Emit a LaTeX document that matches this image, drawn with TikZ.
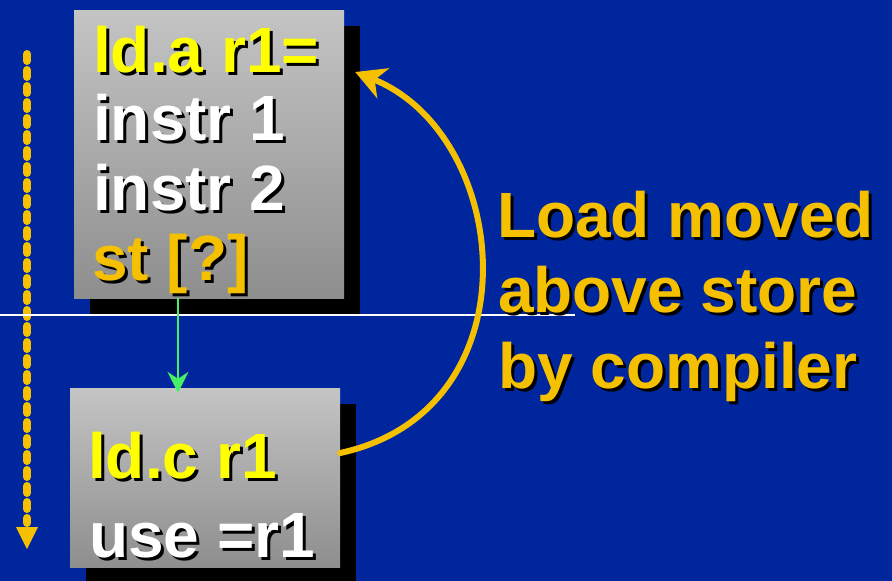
\documentclass[tikz,border=0pt]{standalone}
\usepackage{fontspec}
\setmainfont{Liberation Sans}
\usetikzlibrary{arrows.meta,shadows}
\definecolor{bg}{RGB}{0,38,158}
\definecolor{gold}{RGB}{245,192,0}
\definecolor{yel}{RGB}{255,255,0}
\definecolor{grn}{RGB}{70,240,100}
\definecolor{boxtop}{RGB}{196,196,196}
\definecolor{boxbot}{RGB}{142,142,142}
\newcommand\shd[2]{\rlap{\kern3pt\raisebox{-3pt}{\textcolor{black}{#2}}}\textcolor{#1}{#2}}
\tikzset{
  txt/.style={anchor=base west, inner sep=0pt, font=\fontsize{64}{64}\selectfont\bfseries},
  graybox/.style={rectangle, inner sep=0pt, top color=boxtop, bottom color=boxbot, draw=none,
    minimum width=270pt,
    drop shadow={shadow xshift=16pt, shadow yshift=-16pt, fill=black, opacity=1}},
}
\begin{document}
\begin{tikzpicture}[x=1pt,y=-1pt]
\useasboundingbox (0,0) rectangle (892,581);
\fill[bg] (0,0) rectangle (892,581);
% boxes
\node[graybox, minimum height=288pt] (topbox) at (209,154) {};
\node[graybox, minimum height=179pt] (botbox) at (205,477.5) {};
% dotted arrow
\coordinate (dtop) at (27,54);
\coordinate (dbot) at (27,527);
\coordinate (dtip) at (27,549);
\draw[gold, line width=8pt, line cap=round, dash pattern=on 7pt off 9pt] (dtop) -- ([yshift=4pt]dbot);
\fill[gold] ([xshift=-11pt]dbot) -- ([xshift=11pt]dbot) -- (dtip) -- cycle;
% white line
\coordinate (wl) at (0,315);
\coordinate (wr) at (575,315);
\draw[white, line width=1.5pt] (wl) -- (wr);
% green arrow
\coordinate (gx) at (178,0);
\draw[grn, line width=2pt, shorten >=-5pt, -{Stealth[length=21pt,width=21pt,inset=7pt]}]
  (topbox.south -| gx) -- (botbox.north -| gx);
% yellow curved arrow
\coordinate (cs) at ([yshift=24.5pt]botbox.east);
\coordinate (ce) at ([xshift=11pt,yshift=82pt]topbox.east);
\draw[gold, line width=6pt, line cap=round, -{Stealth[length=30pt,width=32pt,inset=9pt]}]
  (cs) .. controls (538,410) and (512,135) .. (ce);
% texts
\node[txt] (t1) at (93,72) {\shd{yel}{ld.a r1=}};
\node[txt] (t2) at (93,140) {\shd{white}{instr 1}};
\node[txt] (t3) at (93,210) {\shd{white}{instr 2}};
\node[txt] (t4) at (92,280) {\shd{gold}{st [?]}};
\node[txt] (b1) at (88,478) {\shd{yel}{ld.c r1}};
\node[txt] (b2) at (89,557) {\shd{white}{use =r1}};
\node[txt] (r1) at (497,237) {\shd{gold}{Load moved}};
\node[txt] (r2) at (498,312) {\shd{gold}{above store}};
\node[txt] (r3) at (498,388) {\shd{gold}{by compiler}};
\end{tikzpicture}
\end{document}
